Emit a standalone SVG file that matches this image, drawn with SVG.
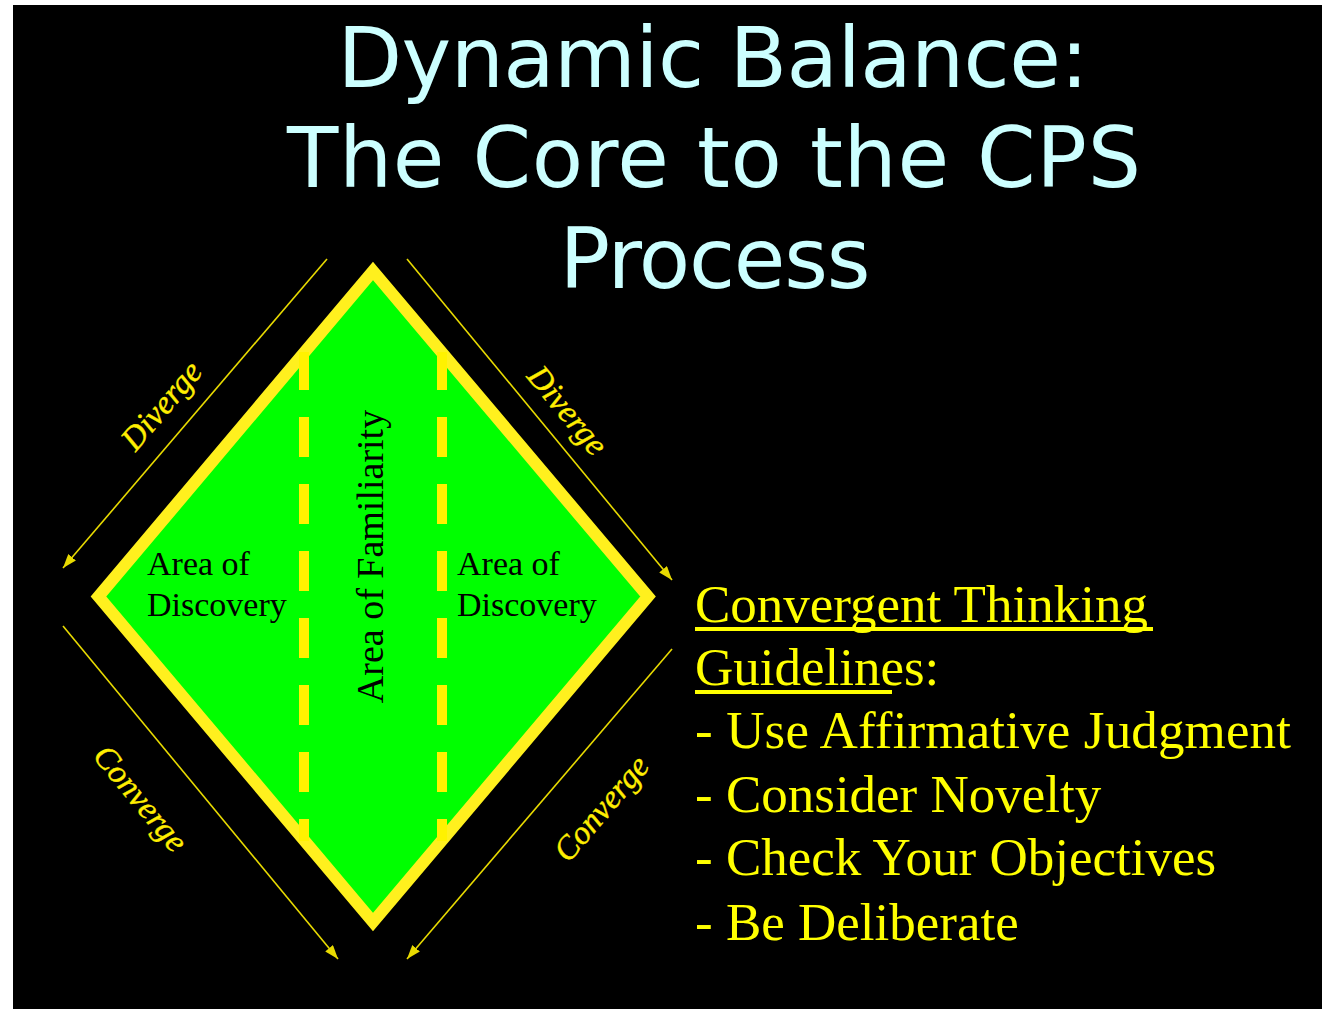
<svg xmlns="http://www.w3.org/2000/svg" width="1322" height="1009" viewBox="0 0 1322 1009">
<style>
.title{font-family:"DejaVu Sans",Verdana,sans-serif;font-size:84px;fill:#CCFFFF;text-anchor:middle}
.inner{font-family:"Liberation Serif","Times New Roman",serif;font-size:34px;fill:#000}
.lbl{font-family:"Liberation Serif","Times New Roman",serif;font-style:italic;font-size:33px;fill:#FFEE00;text-anchor:middle;stroke:#FFEE00;stroke-width:0.4}
.list{font-family:"Liberation Serif","Times New Roman",serif;font-size:53px;fill:#FFFF00}
.arrow{stroke:#E8DA00;stroke-width:1.6;fill:none;marker-end:url(#ah)}
.dash{stroke:#FFF200;stroke-width:10;stroke-dasharray:40 27;stroke-dashoffset:2}
</style>
<defs>
<marker id="ah" viewBox="0 0 14 10" refX="14" refY="5" markerWidth="14" markerHeight="10" markerUnits="userSpaceOnUse" orient="auto">
<path d="M0,0 L14,5 L0,10 z" fill="#E8DA00"/>
</marker>
</defs>
<rect x="0" y="0" width="1322" height="1009" fill="#fff"/>
<rect x="13" y="5" width="1309" height="1004" fill="#000"/>
<g id="title">
<text class="title" x="713" y="87" textLength="751">Dynamic Balance:</text>
<text class="title" x="714" y="187" textLength="854">The Core to the CPS</text>
<text class="title" x="715" y="288" textLength="311">Process</text>
</g>
<g id="diamond">
<polygon points="373,271 648,596.5 373,922 98.5,596.5" fill="#00FF00" stroke="#FFF01E" stroke-width="12" stroke-linejoin="miter"/>
<line class="dash" x1="304" y1="352" x2="304" y2="841"/>
<line class="dash" x1="442" y1="352" x2="442" y2="841"/>
</g>
<g id="discovery-left">
<text class="inner" x="147" y="575">Area of</text>
<text class="inner" x="147" y="616">Discovery</text>
</g>
<g id="familiarity">
<text class="inner" style="font-size:38px" text-anchor="middle" transform="translate(383,556.5) rotate(-90)">Area of Familiarity</text>
</g>
<g id="discovery-right">
<text class="inner" x="457" y="575">Area of</text>
<text class="inner" x="457" y="616">Discovery</text>
</g>
<g id="connectors">
<line class="arrow" x1="327" y1="259" x2="63" y2="568"/>
<line class="arrow" x1="407" y1="259" x2="672" y2="580"/>
<line class="arrow" x1="63" y1="626" x2="338" y2="959"/>
<line class="arrow" x1="672" y1="649" x2="407" y2="959"/>
</g>
<g id="labels">
<text class="lbl" transform="translate(162,406) rotate(-49.5)" y="10">Diverge</text>
<text class="lbl" transform="translate(567,411) rotate(50.5)" y="10">Diverge</text>
<text class="lbl" transform="translate(140,799) rotate(50.5)" y="10">Converge</text>
<text class="lbl" transform="translate(602,809) rotate(-49.5)" y="10">Converge</text>
</g>
<g id="guidelines">
<text class="list" x="695" y="622">Convergent Thinking</text>
<rect x="695" y="627" width="458" height="4" fill="#FFFF00"/>
<text class="list" x="695" y="685">Guidelines:</text>
<rect x="695" y="690" width="197" height="4" fill="#FFFF00"/>
<text class="list" x="695" y="748" textLength="596">- Use Affirmative Judgment</text>
<text class="list" x="695" y="812">- Consider Novelty</text>
<text class="list" x="695" y="875">- Check Your Objectives</text>
<text class="list" x="695" y="940">- Be Deliberate</text>
</g>
</svg>
